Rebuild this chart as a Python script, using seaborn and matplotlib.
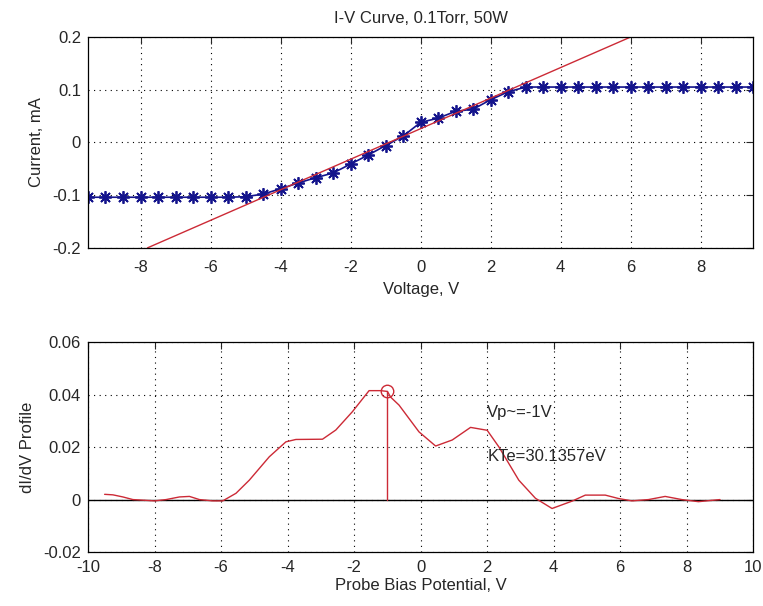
"""Langmuir probe I-V curve and dI/dV profile (0.1 Torr, 50 W)."""

import matplotlib

matplotlib.use("Agg")
import matplotlib.pyplot as plt
import pandas as pd
import seaborn as sns

# I-V sweep (V, mA)
voltage = [-9.5, -9.0, -8.5, -8.0, -7.5, -7.0, -6.5, -6.0, -5.5, -5.0,
           -4.5, -4.0, -3.5, -3.0, -2.5, -2.0, -1.5, -1.0, -0.5, 0.0,
           0.5, 1.0, 1.5, 2.0, 2.5, 3.0, 3.5, 4.0, 4.5, 5.0,
           5.5, 6.0, 6.5, 7.0, 7.5, 8.0, 8.5, 9.0, 9.5]
current = [-0.104, -0.104, -0.104, -0.104, -0.104, -0.104, -0.104, -0.104, -0.104, -0.103,
           -0.098, -0.088, -0.077, -0.067, -0.058, -0.041, -0.024, -0.006, 0.012, 0.038,
           0.046, 0.059, 0.063, 0.081, 0.096, 0.105, 0.105, 0.105, 0.105, 0.105,
           0.105, 0.105, 0.105, 0.105, 0.105, 0.105, 0.105, 0.105, 0.105]

# linear fit through the transition region (end points)
fit_v = [-7.8, 6.0]
fit_i = [-0.2, 0.2]

# dI/dV profile
bias = [-9.5, -9.25, -8.95, -8.65, -8.25, -8.0, -7.65, -7.25, -6.95, -6.65,
        -6.25, -5.95, -5.55, -5.15, -4.55, -4.05, -3.75, -2.95, -2.55, -2.05,
        -1.55, -1.2, -1.0, -0.9, -0.65, -0.05, 0.45, 0.95, 1.5, 2.0,
        2.35, 2.95, 3.45, 3.95, 4.55, 4.95, 5.55, 5.95, 6.35, 6.85,
        7.35, 7.85, 8.35, 8.75, 9.0]
didv = [0.002, 0.0018, 0.001, 0.0, -0.0003, -0.0005, 0.0, 0.001, 0.0012, 0.0,
        -0.0005, -0.0005, 0.0024, 0.0074, 0.0163, 0.022, 0.0229, 0.023, 0.0265, 0.0335,
        0.0415, 0.0415, 0.0412, 0.039, 0.036, 0.0258, 0.0204, 0.0227, 0.0275, 0.0264,
        0.0201, 0.0074, 0.0005, -0.0034, -0.0006, 0.0017, 0.0017, 0.0004, -0.0005, 0.0,
        0.0012, 0.0, -0.0008, -0.0003, 0.0]

# plasma potential estimate
vp = -1.0
vp_peak = 0.0412

iv_df = pd.DataFrame({"Voltage": voltage, "Current": current})
fit_df = pd.DataFrame({"Voltage": fit_v, "Current": fit_i})
didv_df = pd.DataFrame({"Bias": bias, "dIdV": didv})

sns.set_style("white")
plt.rcParams["font.family"] = ["Liberation Sans", "DejaVu Sans"]
plt.rcParams["font.size"] = 12
plt.rcParams["axes.unicode_minus"] = False

blue = "#14148c"
red = "#cc2a36"

fig = plt.figure(figsize=(7.63, 6.06), dpi=100)
ax1 = fig.add_axes([0.1153, 0.591, 0.872, 0.348])
ax2 = fig.add_axes([0.1153, 0.089, 0.872, 0.3465])

# Top panel: I-V curve
sns.lineplot(data=iv_df, x="Voltage", y="Current", ax=ax1, color=blue,
             marker=(8, 2, 0), markersize=9, markeredgewidth=1.3,
             markeredgecolor=blue, lw=1.2, sort=False)
sns.lineplot(data=fit_df, x="Voltage", y="Current", ax=ax1, color=red, lw=1.0)
ax1.set_xlim(-9.5, 9.5)
ax1.set_ylim(-0.2, 0.2)
ax1.set_xticks([-8, -6, -4, -2, 0, 2, 4, 6, 8])
ax1.set_yticks([-0.2, -0.1, 0, 0.1, 0.2])
ax1.set_yticklabels(["-0.2", "-0.1", "0", "0.1", "0.2"])
ax1.set_xlabel("Voltage, V", labelpad=5)
ax1.set_ylabel("Current, mA", labelpad=6)
ax1.set_title("I-V Curve, 0.1Torr, 50W", fontsize=12, pad=10)

# Bottom panel: dI/dV profile
ax2.axhline(0, color="black", lw=1.0)
sns.lineplot(data=didv_df, x="Bias", y="dIdV", ax=ax2, color=red, lw=1.0, sort=False)
ax2.plot([vp, vp], [0, vp_peak], color=red, lw=1.0)
ax2.plot([vp], [vp_peak], marker="o", markersize=9, markerfacecolor="none",
         markeredgecolor=red, linestyle="none")
ax2.text(2.0, 0.033, "Vp~=-1V", va="center", ha="left")
ax2.text(2.0, 0.0163, "KTe=30.1357eV", va="center", ha="left")
ax2.set_xlim(-10, 10)
ax2.set_ylim(-0.02, 0.06)
ax2.set_xticks(range(-10, 11, 2))
ax2.set_yticks([-0.02, 0, 0.02, 0.04, 0.06])
ax2.set_yticklabels(["-0.02", "0", "0.02", "0.04", "0.06"])
ax2.set_xlabel("Probe Bias Potential, V", labelpad=2)
ax2.set_ylabel("dI/dV Profile", labelpad=6)

for ax in (ax1, ax2):
    ax.grid(True, color="black", linestyle=(0, (1, 4)), lw=0.8)
    ax.tick_params(direction="in", length=5, width=0.8, top=True, right=True,
                   labelsize=12)
    ax.tick_params(axis="y", pad=5)
    for spine in ax.spines.values():
        spine.set_color("black")
        spine.set_linewidth(0.9)
ax1.tick_params(axis="x", pad=9)
ax2.tick_params(axis="x", pad=6)

fig.savefig("out.png", dpi=100)
